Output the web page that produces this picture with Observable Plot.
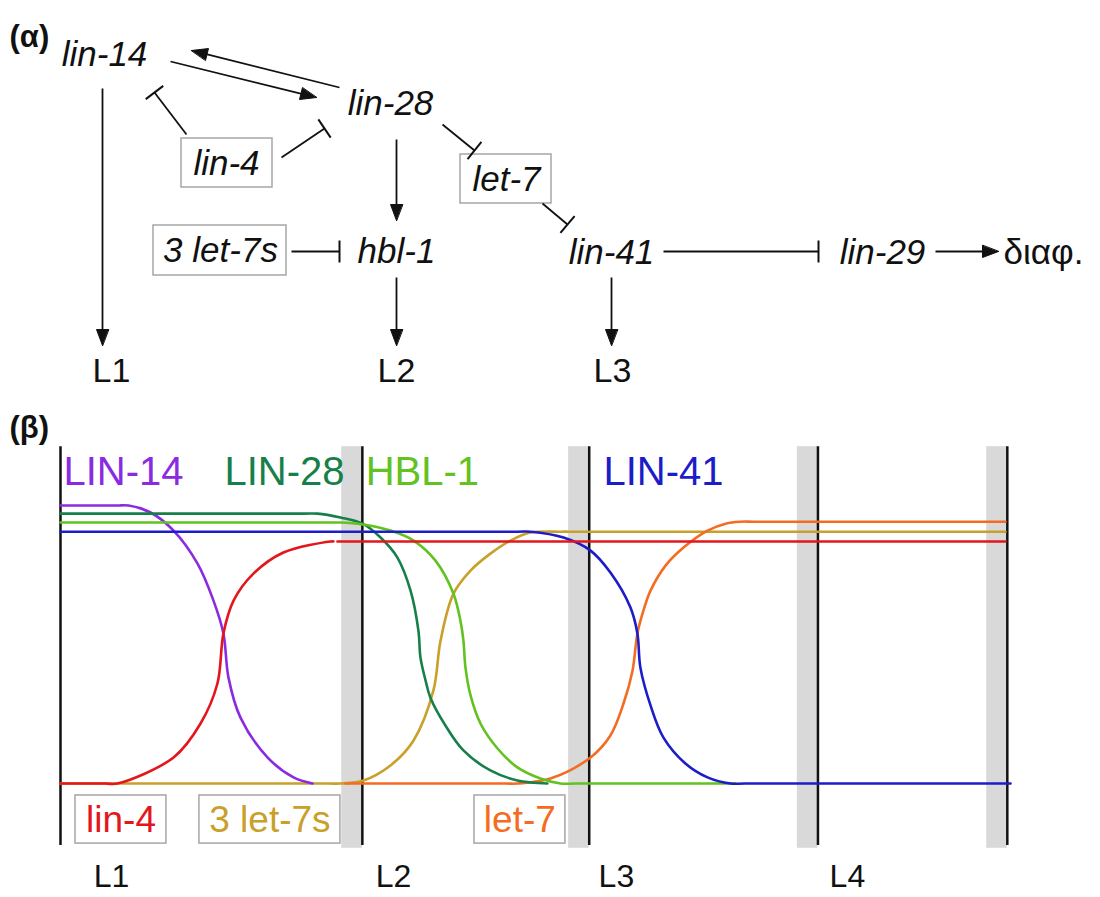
<!DOCTYPE html>
<html><head><meta charset="utf-8">
<script src="https://cdn.jsdelivr.net/npm/d3@7"></script>
<script src="https://cdn.jsdelivr.net/npm/@observablehq/plot@0.6"></script>
<style>
html,body{margin:0;padding:0;background:#fff;}
#chart svg{display:block;}
</style></head><body><div id="chart"></div>
<script>
// ================= DATA =================
// (α) regulatory network
const genes = ["lin-14", "lin-28", "hbl-1", "lin-41", "lin-29"];
const mirnas = ["lin-4", "let-7", "3 let-7s"];
const stagesA = ["L1", "L2", "L3"];
const outcome = "διαφ.";
const actFrom = ["lin-28", "lin-14", "lin-14", "lin-28", "hbl-1", "lin-41", "lin-29"];
const actTo   = ["lin-14", "lin-28", "L1", "hbl-1", "L2", "L3", "διαφ."];
const inhFrom = ["lin-4", "lin-4", "3 let-7s", "lin-28", "let-7", "lin-41"];
const inhTo   = ["lin-14", "lin-28", "hbl-1", "let-7", "lin-41", "lin-29"];

// (β) expression profiles: time (h) and relative level
const stageNames = ["L1", "L2", "L3", "L4"];
const stageBounds = [0, 16.1, 28.2, 40.4, 50.5];
const moltLength = 1.1;
const proteinNames = ["LIN-14", "LIN-28", "HBL-1", "LIN-41"];
const mirnaNames = ["lin-4", "3 let-7s", "let-7"];

const lin14T = [0, 3.0, 3.63, 4.8, 6.03, 7.31, 8.16, 8.69, 8.96, 9.6, 11.04, 12.43, 13.44];
const lin14V = [1.0, 1.0, 1.0, 0.975, 0.91, 0.791, 0.658, 0.54, 0.381, 0.237, 0.094, 0.022, 0];
const lin28T = [0, 13.0, 13.71, 14.93, 16.11, 17.07, 17.97, 18.67, 19.09, 19.2, 19.47, 19.73, 20.53, 21.49, 22.93, 24.37, 25.97];
const lin28V = [0.971, 0.971, 0.971, 0.957, 0.935, 0.885, 0.813, 0.694, 0.55, 0.453, 0.371, 0.309, 0.209, 0.119, 0.047, 0.011, 0];
const hbl1T = [0, 14.2, 14.93, 16.11, 17.6, 18.83, 20.0, 20.96, 21.33, 21.49, 21.6, 21.87, 22.4, 23.31, 24.37, 25.6, 26.67, 27.5, 36.0];
const hbl1V = [0.939, 0.939, 0.939, 0.932, 0.91, 0.874, 0.802, 0.683, 0.586, 0.514, 0.417, 0.317, 0.216, 0.126, 0.058, 0.018, 0, 0, 0];
const lin41T = [0, 24.4, 25.07, 26.83, 28.27, 29.33, 30.4, 30.77, 30.93, 31.47, 32.16, 33.33, 34.51, 35.73, 36.5, 50.67];
const lin41V = [0.906, 0.906, 0.906, 0.885, 0.838, 0.759, 0.633, 0.54, 0.417, 0.281, 0.165, 0.072, 0.022, 0, 0, 0];
const lin4T = [0, 2.4, 3.04, 6.03, 7.47, 8.37, 8.69, 9.23, 10.29, 11.89, 14.4, 14.56, 14.66, 14.77, 20, 50.4];
const lin4V = [0, 0, 0, 0.094, 0.216, 0.36, 0.54, 0.658, 0.755, 0.831, 0.871, 0.871, NaN, 0.871, 0.871, 0.871];
const let7sT = [0, 14.3, 14.93, 16.16, 17.6, 18.83, 19.89, 20.27, 20.96, 21.87, 22.93, 24.0, 25.07, 26.67, 27.5, 50.4];
const let7sV = [0, 0, 0, 0.011, 0.065, 0.155, 0.335, 0.514, 0.683, 0.766, 0.827, 0.874, 0.903, 0.906, 0.906, 0.906];
const let7T = [15.2, 23.7, 24.37, 26.13, 28.27, 29.33, 30.03, 30.51, 30.77, 31.09, 31.47, 32.27, 33.23, 34.51, 35.47, 36.27, 37.0, 50.4];
const let7V = [0, 0, 0, 0.018, 0.094, 0.173, 0.288, 0.406, 0.54, 0.622, 0.694, 0.784, 0.849, 0.91, 0.935, 0.942, 0.942, 0.942];

// ================= LAYOUT & STYLE =================
const FONT = "'Liberation Sans', Arial, Helvetica, sans-serif";
const INK = "#111";
const nodePos = {
  "lin-14": [104, 54], "lin-28": [390, 103], "hbl-1": [396, 251], "lin-41": [611, 252], "lin-29": [882, 252],
  "lin-4": [226, 163], "let-7": [506, 179], "3 let-7s": [220, 250],
  "L1": [111, 371], "L2": [396, 371], "L3": [612, 371]
};
const boxA = {"lin-4": [181, 272, 138, 187], "let-7": [460, 551, 154, 203], "3 let-7s": [153, 286, 225, 275]};
const actPath = [[339, 87, 191, 50], [170, 61, 316, 97], [102, 88, 102, 345], [396, 139, 396, 220], [396, 277, 396, 345], [611, 277, 611, 345], [935, 251, 998, 251]];
const inhPath = [[186, 134, 154, 92], [281, 157, 324, 128], [291, 251, 339, 251], [442, 124, 474, 150], [542, 203, 567, 224], [663, 251, 818, 251]];

const colors = {"LIN-14": "#8a2be2", "LIN-28": "#17804a", "HBL-1": "#62c21f", "LIN-41": "#1c1cc8",
                "lin-4": "#e3161b", "3 let-7s": "#c8a02a", "let-7": "#f36c21"};
const proteinLabelT = [3.36, 11.95, 19.3, 32.16];
const mirnaLabelT = [3.23, 11.17, 24.5];
const mirnaBoxT = [[0.8, 5.65], [7.41, 14.93], [22.08, 26.93]];
const stageLabelT = [2.72, 17.76, 29.65, 41.97];

// ================= (α) =================
const edgesAct = actFrom.map((f, i) => ({from: f, to: actTo[i], x1: actPath[i][0], y1: actPath[i][1], x2: actPath[i][2], y2: actPath[i][3]}));
const edgesInh = inhFrom.map((f, i) => ({from: f, to: inhTo[i], x1: inhPath[i][0], y1: inhPath[i][1], x2: inhPath[i][2], y2: inhPath[i][3]}));
function unit(e) { const dx = e.x2 - e.x1, dy = e.y2 - e.y1, L = Math.hypot(dx, dy); return [dx / L, dy / L]; }
const heads = edgesAct.flatMap((e, i) => {
  const [ux, uy] = unit(e), len = 16, hw = 6;
  const bx = e.x2 - ux * len, by = e.y2 - uy * len;
  return [{id: i, x: e.x2, y: e.y2}, {id: i, x: bx - uy * hw, y: by + ux * hw}, {id: i, x: bx + uy * hw, y: by - ux * hw}];
});
const shafts = edgesAct.map(e => { const [ux, uy] = unit(e); return {x1: e.x1, y1: e.y1, x2: e.x2 - ux * 10, y2: e.y2 - uy * 10}; });
const bars = edgesInh.map(e => { const [ux, uy] = unit(e), h = 11; return {x1: e.x2 - uy * h, y1: e.y2 + ux * h, x2: e.x2 + uy * h, y2: e.y2 - ux * h}; });

const nodesItalic = genes.concat(mirnas).map(n => ({name: n, x: nodePos[n][0], y: nodePos[n][1]}));
const nodesPlain = stagesA.map(n => ({name: n, x: nodePos[n][0], y: nodePos[n][1]}));
const boxesA = mirnas.map(n => ({name: n, x1: boxA[n][0], x2: boxA[n][1], y1: boxA[n][2], y2: boxA[n][3]}));

const plotA = Plot.plot({
  width: 1100, height: 400, margin: 0,
  x: {domain: [0, 1100], range: [0, 1100], axis: null},
  y: {domain: [0, 400], range: [0, 400], axis: null},
  style: {fontFamily: FONT, background: "white", overflow: "visible"},
  marks: [
    Plot.rect(boxesA, {x1: "x1", x2: "x2", y1: "y1", y2: "y2", fill: "none", stroke: "#a6a6a6", strokeWidth: 1.5}),
    Plot.link(shafts, {x1: "x1", y1: "y1", x2: "x2", y2: "y2", stroke: INK, strokeWidth: 1.8}),
    Plot.line(heads, {x: "x", y: "y", z: "id", fill: INK, stroke: INK, strokeWidth: 1, curve: "linear-closed"}),
    Plot.link(edgesInh, {x1: "x1", y1: "y1", x2: "x2", y2: "y2", stroke: INK, strokeWidth: 1.8}),
    Plot.link(bars, {x1: "x1", y1: "y1", x2: "x2", y2: "y2", stroke: INK, strokeWidth: 2}),
    Plot.text(nodesItalic, {x: "x", y: "y", text: "name", fontSize: 35, fontStyle: "italic", fill: INK, fontFamily: FONT}),
    Plot.text(nodesPlain, {x: "x", y: "y", text: "name", fontSize: 34, fill: INK, fontFamily: FONT}),
    Plot.text([outcome], {x: () => 1003, y: () => 252, text: d => d, textAnchor: "start", fontSize: 35, fill: INK, fontFamily: FONT}),
    Plot.text(["(α)"], {x: () => 9, y: () => 37, text: d => d, textAnchor: "start", fontSize: 31, fontWeight: "bold", fill: INK, fontFamily: FONT})
  ]
});

// ================= (β) =================
const rows = [].concat(
  let7sT.map((t, i) => ({name: "3 let-7s", t, v: let7sV[i]})),
  let7T.map((t, i) => ({name: "let-7", t, v: let7V[i]})),
  lin14T.map((t, i) => ({name: "LIN-14", t, v: lin14V[i]})),
  lin28T.map((t, i) => ({name: "LIN-28", t, v: lin28V[i]})),
  hbl1T.map((t, i) => ({name: "HBL-1", t, v: hbl1V[i]})),
  lin41T.map((t, i) => ({name: "LIN-41", t, v: lin41V[i]})),
  lin4T.map((t, i) => ({name: "lin-4", t, v: lin4V[i]}))
);
const TOP = 1.212, BOT = -0.223;
const molts = stageBounds.slice(1);

const plotB = Plot.plot({
  width: 1100, height: 497, margin: 0,
  x: {domain: [-3.2, 55.47], range: [0, 1100], axis: null},
  y: {domain: [-0.41, 1.378], range: [497, 0], axis: null},
  color: {domain: Object.keys(colors), range: Object.values(colors)},
  style: {fontFamily: FONT, background: "white", overflow: "visible"},
  marks: [
    Plot.rect(molts, {x1: d => d - moltLength, x2: d => d, y1: () => BOT - 0.01, y2: () => TOP, fill: "#d9d9d9"}),
    Plot.ruleX(stageBounds, {x: d => d, y1: () => BOT, y2: () => TOP, stroke: INK, strokeWidth: 2.5}),
    Plot.line(rows, {x: "t", y: "v", z: "name", stroke: "name", strokeWidth: 2.6, curve: "catmull-rom"}),
    Plot.rect(mirnaNames, {x1: (d, i) => mirnaBoxT[i][0], x2: (d, i) => mirnaBoxT[i][1], y1: () => -0.043, y2: () => -0.216, fill: "none", stroke: "#a6a6a6", strokeWidth: 1.5}),
    Plot.text(mirnaNames, {x: (d, i) => mirnaLabelT[i], y: () => -0.13, text: d => d, fill: d => colors[d], fontSize: 37, fontFamily: FONT}),
    Plot.text(proteinNames, {x: (d, i) => proteinLabelT[i], y: () => 1.119, text: d => d, fill: d => colors[d], fontSize: 40, fontFamily: FONT}),
    Plot.text(stageNames, {x: (d, i) => stageLabelT[i], y: () => -0.335, text: d => d, fill: INK, fontSize: 32, fontFamily: FONT}),
    Plot.text(["(β)"], {x: () => -2.72, y: () => 1.28, text: d => d, textAnchor: "start", fontSize: 31, fontWeight: "bold", fill: INK, fontFamily: FONT})
  ]
});

document.getElementById("chart").append(plotA, plotB);
</script></body></html>
